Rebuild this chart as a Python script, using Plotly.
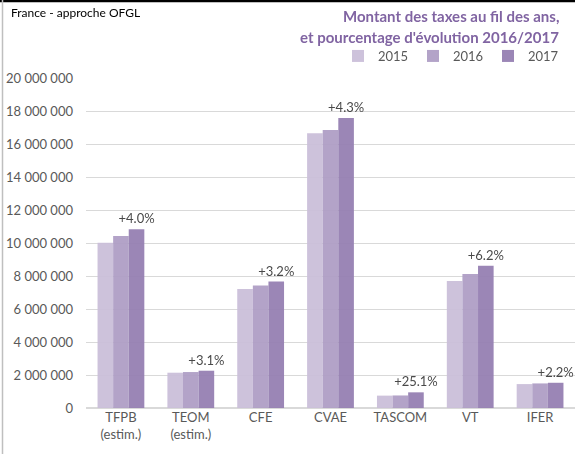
import plotly.graph_objects as go

categories = ["TFPB<br>(estim.)", "TEOM<br>(estim.)", "CFE", "CVAE", "TASCOM", "VT", "IFER"]
v2015 = [10020000, 2140000, 7210000, 16650000, 750000, 7700000, 1450000]
v2016 = [10420000, 2180000, 7430000, 16850000, 760000, 8120000, 1490000]
v2017 = [10830000, 2260000, 7660000, 17580000, 950000, 8620000, 1530000]
evol = ["+4.0%", "+3.1%", "+3.2%", "+4.3%", "+25.1%", "+6.2%", "+2.2%"]
tickvals = [0, 2000000, 4000000, 6000000, 8000000, 10000000, 12000000, 14000000, 16000000, 18000000, 20000000]

FONT = "Lato"
W, H = 575, 454
L, R, T, B = 86, 0, 78, 46
PW, PH = W - L - R, H - T - B


def px(x):
    return (x - L) / PW


def py(y):
    return (H - B - y) / PH


fig = go.Figure()
fig.add_bar(x=categories, y=v2015, name="2015", marker=dict(color="#CBBFDA", line=dict(width=0)), opacity=0.95)
fig.add_bar(x=categories, y=v2016, name="2016", marker=dict(color="#AF9FC6", line=dict(width=0)), opacity=0.95)
fig.add_bar(x=categories, y=v2017, name="2017", marker=dict(color="#9680B3", line=dict(width=0)), opacity=0.95,
            text=evol, textposition="outside", constraintext="none", cliponaxis=False,
            textfont=dict(family=FONT, size=13, color="#404040"))

fig.update_layout(
    width=W, height=H,
    margin=dict(l=L, r=R, t=T, b=B, autoexpand=False),
    paper_bgcolor="white", plot_bgcolor="white",
    barmode="group", bargap=0.33, bargroupgap=0,
    separators=", ",
    font=dict(family=FONT, size=13, color="#595959"),
    legend=dict(orientation="h", x=px(338), xanchor="left", y=py(56), yanchor="middle",
                entrywidth=30, entrywidthmode="pixels", font=dict(family=FONT, size=13, color="#595959"),
                itemclick=False, bgcolor="rgba(0,0,0,0)", traceorder="normal", itemwidth=30),
    xaxis=dict(showgrid=False, showline=False, ticks="", automargin=False,
               tickfont=dict(size=13, color="#595959")),
    yaxis=dict(range=[0, 20000000], tickvals=tickvals, tickformat=",d", showgrid=True, automargin=False,
               gridcolor="#D9D9D9", gridwidth=1, zeroline=True, zerolinecolor="#D9D9D9",
               showline=False, ticks="", ticklabelstandoff=12, tickfont=dict(size=13, color="#595959")),
    annotations=[
        dict(text="France - approche OFGL", xref="paper", yref="paper",
             x=px(9), y=py(13), xanchor="left", yanchor="middle",
             showarrow=False, font=dict(family=FONT, size=12, color="#000000")),
        dict(text="<b>Montant des taxes au fil des ans,</b>", xref="paper", yref="paper",
             x=px(561), y=py(16), xanchor="right", yanchor="middle",
             showarrow=False, font=dict(family=FONT, size=15, color="#8064A2")),
        dict(text="<b>et pourcentage d'évolution 2016/2017</b>", xref="paper", yref="paper",
             x=px(561), y=py(37), xanchor="right", yanchor="middle",
             showarrow=False, font=dict(family=FONT, size=15, color="#8064A2")),
    ],
    shapes=[
        dict(type="line", xref="paper", yref="paper", x0=px(0), x1=px(W), y0=py(1), y1=py(1),
             line=dict(color="#000000", width=2.5)),
        dict(type="line", xref="paper", yref="paper", x0=px(2.5), x1=px(2.5),
             y0=py(H), y1=py(0), line=dict(color="#BFBFBF", width=1.5)),
    ],
)

fig.write_html("out.html", config={"displayModeBar": False},
               post_script="document.body.style.margin='0px';document.body.style.overflow='hidden';")
